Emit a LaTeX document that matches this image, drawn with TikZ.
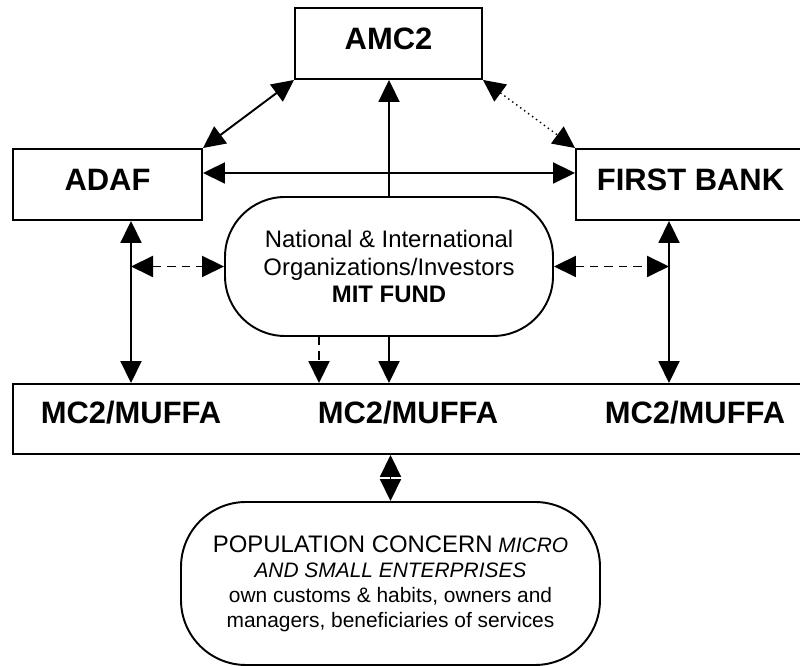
\documentclass[tikz,border=0pt]{standalone}
\usepackage{fontspec}
\setmainfont{Liberation Sans}
\usepackage{tikz}
\usetikzlibrary{arrows.meta}
\definecolor{inkblack}{RGB}{0, 0, 0}

\begin{document}
\begin{tikzpicture}[
    line width=1.1pt, inkblack,
    tip/.style={-{Triangle[length=0.44cm,width=0.42cm]}},
    dbl/.style={{Triangle[length=0.44cm,width=0.42cm]}-{Triangle[length=0.44cm,width=0.42cm]}},
    dashline/.style={dash pattern=on 0.17cm off 0.12cm},
    unit/.style={draw, minimum height=1.42cm, text depth=0.2cm,
                 font=\fontsize{17.6}{20}\selectfont\bfseries},
    bubble/.style={draw, rounded corners=1.2cm, align=center}]
    \useasboundingbox (0,0) rectangle (16,13.32);

    %% top row
    \node[unit, minimum width=3.74cm] (amc) at (7.77,12.45) {AMC2};
    \node[unit, minimum width=3.78cm] (adaf) at (2.15,9.63) {ADAF};
    \node[unit, minimum width=4.58cm] (fb) at (13.81,9.63) {FIRST BANK};

    %% investors
    \node[bubble, minimum width=6.56cm, minimum height=2.78cm,
          font=\fontsize{13.6}{15.6}\selectfont] (natl) at (7.78,7.99)
      {National \& International\\Organizations/Investors\\\textbf{MIT FUND}};

    %% local units
    \node[draw, minimum width=15.94cm, minimum height=1.4cm] (mc2) at (8.23,4.94) {};
    \node[font=\fontsize{17.6}{20}\selectfont\bfseries] (mcl) at (2.62,5.06) {MC2/MUFFA};
    \node[font=\fontsize{17.6}{20}\selectfont\bfseries] (mcm) at (8.16,5.06) {MC2/MUFFA};
    \node[font=\fontsize{17.6}{20}\selectfont\bfseries] (mcr) at (13.9,5.06) {MC2/MUFFA};

    %% population
    \node[bubble, rounded corners=1.3cm, minimum width=8.38cm, minimum height=3.26cm,
          font=\fontsize{11.9}{14.2}\selectfont] (pop) at (7.81,1.65)
      {{\fontsize{13.6}{14.2}\selectfont POPULATION CONCERN} \textit{MICRO}\\
       \textit{AND SMALL ENTERPRISES}\\
       own customs \& habits, owners and\\
       managers, beneficiaries of services};

    \coordinate (lx) at (2.62,0);
    \coordinate (rx) at (13.38,0);
    \coordinate (dx) at (6.38,0);

    %% links
    \draw[dbl] (adaf.north east) -- (amc.south west);
    \draw[dbl, dotted, line width=0.8pt] (amc.south east) -- (fb.north west);
    \draw[tip] (natl.north) -- (natl.north |- amc.south);
    \draw[dbl] ([yshift=0.23cm]adaf.east) -- ([yshift=0.23cm]adaf.east -| fb.west);
    \draw[dbl] (adaf.south -| lx) -- (mc2.north -| lx);
    \draw[dbl] (fb.south -| rx) -- (mc2.north -| rx);
    \draw[dbl, dashline] (natl.west -| lx) -- (natl.west);
    \draw[dbl, dashline] (natl.east) -- (natl.east -| rx);
    \draw[tip, dashline] (natl.south -| dx) -- (mc2.north -| dx);
    \draw[tip] (natl.south) -- (natl.south |- mc2.north);
    \draw[dbl] (mc2.south -| pop.north) -- (pop.north);
  \end{tikzpicture}
\end{document}
